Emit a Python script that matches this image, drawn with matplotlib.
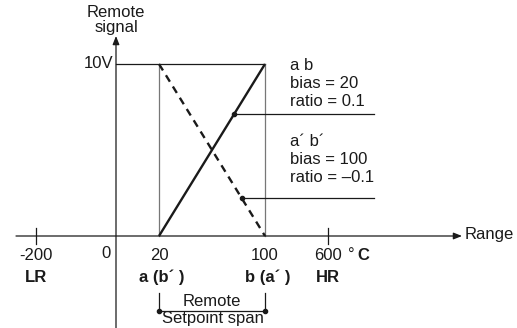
import numpy as np
import matplotlib
matplotlib.use("Agg")
import matplotlib.pyplot as plt

plt.rcParams['font.family'] = ['Liberation Sans', 'DejaVu Sans']

# Range axis: labelled values (schematic, non-linear spacing)
range_ticks = [-200, 0, 20, 100, 600]
range_tick_labels = ["-200", "0", "20", "100", "600"]
range_names = ["LR", "", "a (b\u00b4 )", "b (a\u00b4 )", "HR"]

# Remote signal (V)
signal_max = 10

# Setting lines: range value -> signal
ab_range = [20, 100]
ab_signal = [0, 10]
ab_prime_range = [20, 100]
ab_prime_signal = [10, 0]

# Diagram geometry (canvas units)
X_ANCHORS = [36, 116, 159, 265, 328]
Y_ZERO, Y_TOP = 236, 64


def xr(v):
    return np.interp(v, range_ticks, X_ANCHORS)


def ys(v):
    return Y_ZERO + (Y_TOP - Y_ZERO) * np.asarray(v) / signal_max


fig = plt.figure(figsize=(5.17, 3.28), dpi=100)
ax = fig.add_axes([0, 0, 1, 1])
ax.set_xlim(0, 517)
ax.set_ylim(328, 0)
ax.axis("off")

k = "#1a1a1a"
fs = 12

# axes
ax.annotate("", xy=(462, Y_ZERO), xytext=(16, Y_ZERO),
            arrowprops=dict(arrowstyle="-|>,head_length=0.5,head_width=0.2", color=k, lw=0.9, shrinkA=0, shrinkB=0))
ax.annotate("", xy=(xr(0), 36), xytext=(xr(0), 330),
            arrowprops=dict(arrowstyle="-|>,head_length=0.5,head_width=0.2", color=k, lw=0.9, shrinkA=0, shrinkB=0))
ax.text(465, Y_ZERO - 1, "Range", fontsize=fs, va="center", ha="left", color=k)
ax.text(xr(0), 20, "Remote\nsignal", fontsize=fs, ha="center", va="center", linespacing=1.05, color=k)

# 10V level and span bounds
ax.plot([xr(0), xr(100)], [ys(10), ys(10)], color=k, lw=0.9)
ax.text(xr(0) - 3, ys(10), "10V", fontsize=fs, ha="right", va="center", color=k)
for v in (20, 100):
    ax.plot([xr(v), xr(v)], [ys(0), ys(10)], color="#777777", lw=0.9)

# setting lines
ax.plot(xr(ab_range), ys(ab_signal), color=k, lw=1.7, solid_capstyle="butt")
ax.plot(xr(ab_prime_range), ys(ab_prime_signal), color=k, lw=1.7, ls=(0, (3.2, 2.4)))

# leader lines with dots
t1 = 0.71
p1 = (xr(20) + t1 * (xr(100) - xr(20)), ys(t1 * 10))
ax.plot([p1[0], 374], [p1[1], p1[1]], color=k, lw=0.9)
ax.plot(*p1, "o", color=k, ms=3)
t2 = 0.78
p2 = (xr(20) + t2 * (xr(100) - xr(20)), ys((1 - t2) * 10))
ax.plot([p2[0], 374], [p2[1], p2[1]], color=k, lw=0.9)
ax.plot(*p2, "o", color=k, ms=3)

ax.text(290, 84, "a b\nbias = 20\nratio = 0.1", fontsize=fs, ha="left", va="center",
        linespacing=1.25, color=k)
ax.text(290, 160, "a\u00b4 b\u00b4\nbias = 100\nratio = \u20130.1", fontsize=fs, ha="left", va="center",
        linespacing=1.25, color=k)

# range ticks and labels
for v in (-200, 600):
    ax.plot([xr(v), xr(v)], [228, 244], color=k, lw=0.9)
for v, lab, name in zip(range_ticks, range_tick_labels, range_names):
    x = xr(v)
    if v == 0:
        ax.text(x - 10, 253, lab, fontsize=fs, ha="center", va="center", color=k)
        continue
    ax.text(x, 255, lab, fontsize=fs, ha="center", va="center", color=k)
    ax.text(x + (3 if v in (20, 100) else 0), 277, name, fontsize=fs, ha="center", va="center",
            fontweight="bold", color=k)
ax.text(348, 255, "\u00b0", fontsize=fs, ha="left", va="center", color=k)
ax.text(357, 255, "C", fontsize=fs, ha="left", va="center", fontweight="bold", color=k)

# remote setpoint span
for v in (20, 100):
    ax.plot([xr(v), xr(v)], [293, 311], color=k, lw=0.9)
ax.plot([xr(20), xr(100)], [311, 311], color=k, lw=0.9)
ax.plot([xr(20), xr(100)], [311, 311], "o", color=k, ms=3)
ax.text((xr(20) + xr(100)) / 2, 302, "Remote", fontsize=fs, ha="center", va="center", color=k)
ax.text((xr(20) + xr(100)) / 2 + 1, 319, "Setpoint span", fontsize=fs, ha="center", va="center", color=k)

fig.savefig("out.png", dpi=100, facecolor="white")
